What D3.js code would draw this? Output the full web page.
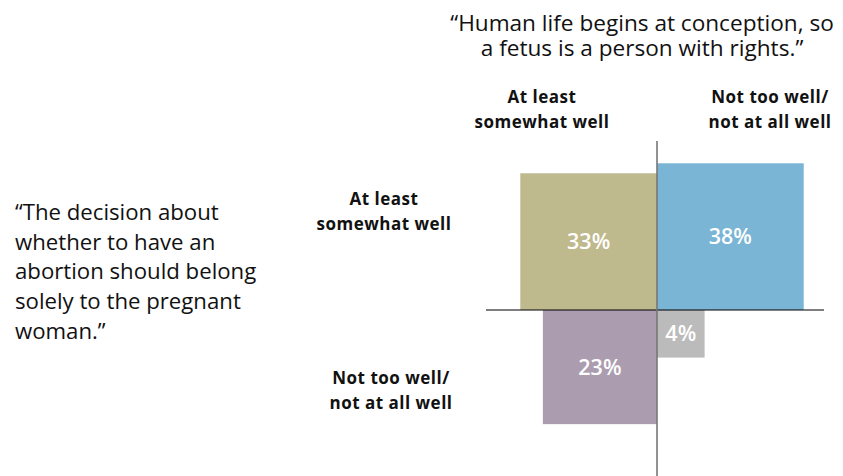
<!DOCTYPE html>
<html><head><meta charset="utf-8">
<script src="https://cdn.jsdelivr.net/npm/d3@7"></script>
<style>
html,body{margin:0;padding:0;background:#fff;}
svg{display:block;}
text{font-family:"Open Sans",sans-serif;}
</style></head>
<body>
<script>
const titleLines = ["\u201cHuman life begins at conception, so", "a fetus is a person with rights.\u201d"];
const sideLines = ["\u201cThe decision about", "whether to have an", "abortion should belong", "solely to the pregnant", "woman.\u201d"];
const colLabels = [["At least", "somewhat well"], ["Not too well/", "not at all well"]];
const rowLabels = [["At least", "somewhat well"], ["Not too well/", "not at all well"]];
// one entry per quadrant: row = decision statement, col = human-life statement
const rowIndex = [0, 0, 1, 1];
const colIndex = [0, 1, 0, 1];
const shares = [33, 38, 23, 4];
const colors = ["#bfb98e", "#7ab5d6", "#ab9daf", "#bbbbbb"];

const W = 843, H = 476;
const cx = 657, cy = 310;
const svg = d3.select("body").append("svg").attr("width", W).attr("height", H);

const size = d3.scaleSqrt().domain([0, 100]).range([0, 238]);

const cells = shares.map((v, i) => ({v, r: rowIndex[i], c: colIndex[i], color: colors[i]}));

const g = svg.append("g");
g.selectAll("rect").data(cells).enter().append("rect")
  .attr("x", d => d.c === 0 ? cx - size(d.v) : cx)
  .attr("y", d => d.r === 0 ? cy - size(d.v) : cy)
  .attr("width", d => size(d.v))
  .attr("height", d => size(d.v))
  .attr("fill", d => d.color);

g.selectAll("text.pct").data(cells).enter().append("text")
  .attr("class", "pct")
  .attr("x", d => d.c === 0 ? cx - size(d.v) / 2 : cx + size(d.v) / 2)
  .attr("y", d => (d.r === 0 ? cy - size(d.v) / 2 : cy + size(d.v) / 2) + 7.5)
  .attr("text-anchor", "middle")
  .attr("fill", "#fff")
  .style("font-size", "21.5px").style("font-weight", "600")
  .text(d => d.v + "%");

// axis lines
svg.append("line").attr("x1", 486).attr("x2", 824).attr("y1", cy).attr("y2", cy)
  .attr("stroke", "#000").attr("stroke-width", 1.2);
svg.append("line").attr("x1", cx).attr("x2", cx).attr("y1", 141).attr("y2", H)
  .attr("stroke", "#777").attr("stroke-width", 1.6);

// title
titleLines.forEach((t, i) => {
  svg.append("text").attr("x", 642).attr("y", 31 + i * 25).attr("text-anchor", "middle")
    .style("font-size", "22.6px").attr("fill", "#111").text(t);
});

// side quote
sideLines.forEach((t, i) => {
  svg.append("text").attr("x", 15).attr("y", 220 + i * 29.7)
    .style("font-size", "22.2px").attr("fill", "#111").text(t);
});

// column labels
const colX = [542, 770];
colLabels.forEach((lines, i) => {
  lines.forEach((t, j) => {
    svg.append("text").attr("text-anchor", "middle").attr("x", colX[i]).attr("y", 103 + j * 25)
      .style("font-size", "17px").style("font-weight", "700").style("letter-spacing", "0.5px")
      .attr("fill", "#111").text(t);
  });
});
// row labels
const rowX = [384, 391], rowY = [205, 384];
rowLabels.forEach((lines, i) => {
  lines.forEach((t, j) => {
    svg.append("text").attr("text-anchor", "middle").attr("x", rowX[i]).attr("y", rowY[i] + j * 25)
      .style("font-size", "17px").style("font-weight", "700").style("letter-spacing", "0.5px")
      .attr("fill", "#111").text(t);
  });
});
</script>
</body></html>
